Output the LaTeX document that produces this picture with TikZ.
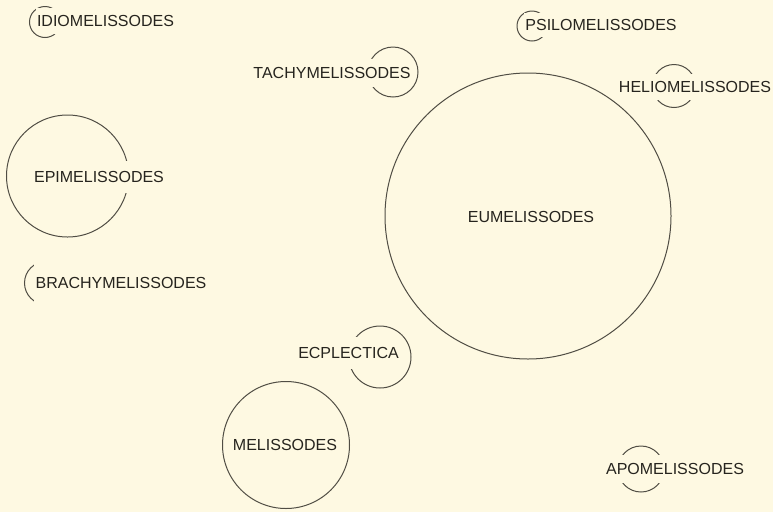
\documentclass[tikz,border=0pt]{standalone}
\usepackage{fontspec}
\setmainfont{Liberation Sans}
\definecolor{bg}{RGB}{254,249,226}
\definecolor{ink}{RGB}{38,36,30}
\definecolor{rim}{RGB}{80,77,68}
\begin{document}
\begin{tikzpicture}[x=1pt,y=-1pt,
  grp/.style={circle, draw=rim, line width=1pt, inner sep=0pt},
  lbl/.style={fill=bg, text=ink, font=\fontsize{16}{16}\selectfont, text height=11.5pt, text depth=0pt, inner xsep=1.5pt, inner ysep=#1},
  lbl/.default=8pt]
\fill[bg] (0,0) rectangle (773,512);
\path[use as bounding box] (0,0) rectangle (773,512);
% circles
\node[grp, minimum size=31pt]  (idio)   at (45,22)    {};
\node[grp, minimum size=50pt]  (tachy)  at (393,72)   {};
\node[grp, minimum size=30pt]  (psilo)  at (532,26)   {};
\node[grp, minimum size=43pt]  (helio)  at (674,86)   {};
\node[grp, minimum size=286pt] (eu)     at (528,216)  {};
\node[grp, minimum size=122pt] (epi)    at (67.5,176) {};
\node[grp, minimum size=43pt]  (brachy) at (46,283)   {};
\node[grp, minimum size=62pt]  (ecp)    at (380,357)  {};
\node[grp, minimum size=127pt] (mel)    at (286,445)  {};
\node[grp, minimum size=46pt]  (apo)    at (641,469)  {};
% labels
\node[lbl=7pt]  (idiot)   at (105.5,21) {IDIOMELISSODES};
\node[lbl=8pt]  (tachyt)  at (332,73)   {TACHYMELISSODES};
\node[lbl=6pt]  (psilot)  at (601,25)   {PSILOMELISSODES};
\node[lbl=7pt]  (heliot)  at (695,87)   {HELIOMELISSODES};
\node[lbl=0pt]  (eut)     at (531,217)  {EUMELISSODES};
\node[lbl=10pt] (epit)    at (99,177)   {EPIMELISSODES};
\node[lbl=17pt] (brachyt) at (121,283)  {BRACHYMELISSODES};
\node[lbl=10pt] (ecpt)    at (348.5,353){ECPLECTICA};
\node[lbl=0pt]  (melt)    at (285,445)  {MELISSODES};
\node[lbl=8pt]  (apot)    at (675,469)  {APOMELISSODES};
\end{tikzpicture}
\end{document}
